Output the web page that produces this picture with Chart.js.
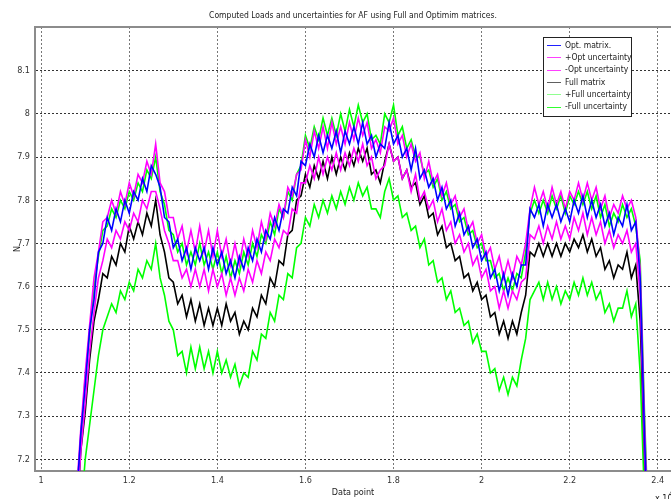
<!DOCTYPE html>
<html>
<head>
<meta charset="utf-8">
<script src="https://cdn.jsdelivr.net/npm/chart.js@4.4.1/dist/chart.umd.min.js"></script>
<style>
  html, body { margin: 0; padding: 0; background: #fff; }
</style>
</head>
<body>
<canvas id="loadChart" width="671" height="499"></canvas>
<script>
// data point index, in units of 10^4
const dataPoint = [
  1.08,1.09,1.10,1.11,1.12,1.13,1.14,1.15,1.16,1.17,
  1.18,1.19,1.20,1.21,1.22,1.23,1.24,1.25,1.26,1.27,
  1.28,1.29,1.30,1.31,1.32,1.33,1.34,1.35,1.36,1.37,
  1.38,1.39,1.40,1.41,1.42,1.43,1.44,1.45,1.46,1.47,
  1.48,1.49,1.50,1.51,1.52,1.53,1.54,1.55,1.56,1.57,
  1.58,1.59,1.60,1.61,1.62,1.63,1.64,1.65,1.66,1.67,
  1.68,1.69,1.70,1.71,1.72,1.73,1.74,1.75,1.76,1.77,
  1.78,1.79,1.80,1.81,1.82,1.83,1.84,1.85,1.86,1.87,
  1.88,1.89,1.90,1.91,1.92,1.93,1.94,1.95,1.96,1.97,
  1.98,1.99,2.00,2.01,2.02,2.03,2.04,2.05,2.06,2.07,
  2.08,2.09,2.10,2.11,2.12,2.13,2.14,2.15,2.16,2.17,
  2.18,2.19,2.20,2.21,2.22,2.23,2.24,2.25,2.26,2.27,
  2.28,2.29,2.30,2.31,2.32,2.33,2.34,2.35,2.36,2.37,
  2.38
];

const optMatrix = [
  7.10,7.26,7.37,7.50,7.57,7.68,7.70,7.76,7.73,7.78,
  7.75,7.80,7.77,7.82,7.80,7.85,7.82,7.88,7.86,7.83,
  7.76,7.75,7.69,7.71,7.66,7.69,7.64,7.69,7.66,7.69,
  7.64,7.69,7.65,7.68,7.63,7.66,7.62,7.67,7.64,7.69,
  7.66,7.71,7.68,7.73,7.71,7.76,7.73,7.78,7.77,7.83,
  7.81,7.89,7.88,7.93,7.90,7.95,7.91,7.95,7.92,7.96,
  7.91,7.96,7.93,7.97,7.93,7.98,7.93,7.95,7.90,7.93,
  7.92,7.98,7.93,7.95,7.90,7.92,7.87,7.92,7.85,7.87,
  7.83,7.85,7.80,7.83,7.78,7.80,7.74,7.77,7.72,7.74,
  7.69,7.71,7.66,7.68,7.62,7.64,7.59,7.63,7.58,7.63,
  7.60,7.65,7.65,7.78,7.76,7.79,7.74,7.79,7.76,7.79,
  7.75,7.78,7.75,7.80,7.77,7.81,7.76,7.80,7.76,7.79,
  7.74,7.77,7.72,7.76,7.74,7.79,7.73,7.75,7.62,7.25,
  6.95
];

const optPlus = [
  7.12,7.27,7.40,7.51,7.62,7.68,7.75,7.76,7.80,7.77,
  7.82,7.79,7.84,7.81,7.86,7.84,7.89,7.86,7.93,7.84,
  7.82,7.76,7.76,7.71,7.74,7.68,7.73,7.68,7.74,7.68,
  7.73,7.67,7.73,7.67,7.71,7.65,7.70,7.65,7.71,7.67,
  7.73,7.69,7.75,7.71,7.77,7.74,7.79,7.76,7.83,7.81,
  7.86,7.87,7.94,7.90,7.96,7.92,7.97,7.92,7.98,7.93,
  7.97,7.93,7.98,7.94,7.99,7.95,7.98,7.92,7.94,7.91,
  7.97,7.96,7.99,7.93,7.95,7.90,7.93,7.89,7.91,7.85,
  7.89,7.84,7.86,7.81,7.84,7.79,7.81,7.76,7.78,7.73,
  7.75,7.70,7.72,7.67,7.69,7.64,7.67,7.62,7.66,7.62,
  7.67,7.65,7.70,7.78,7.83,7.79,7.82,7.78,7.83,7.79,
  7.82,7.78,7.82,7.80,7.84,7.80,7.84,7.80,7.83,7.78,
  7.81,7.76,7.79,7.77,7.81,7.78,7.80,7.76,7.64,7.28,
  6.97
];

const optMinus = [
  7.05,7.22,7.33,7.45,7.54,7.62,7.66,7.71,7.69,7.73,
  7.71,7.75,7.73,7.77,7.75,7.80,7.78,7.82,7.82,7.78,
  7.73,7.70,7.66,7.66,7.62,7.64,7.60,7.64,7.60,7.64,
  7.59,7.64,7.60,7.63,7.58,7.62,7.58,7.62,7.59,7.64,
  7.61,7.66,7.63,7.68,7.66,7.71,7.69,7.73,7.72,7.78,
  7.77,7.84,7.84,7.88,7.85,7.90,7.86,7.90,7.87,7.91,
  7.87,7.91,7.88,7.92,7.89,7.93,7.88,7.90,7.85,7.87,
  7.88,7.93,7.89,7.90,7.85,7.87,7.82,7.86,7.80,7.82,
  7.78,7.80,7.75,7.78,7.73,7.75,7.70,7.72,7.68,7.70,
  7.65,7.67,7.62,7.64,7.59,7.60,7.55,7.59,7.55,7.59,
  7.57,7.61,7.62,7.72,7.71,7.74,7.70,7.74,7.71,7.75,
  7.71,7.74,7.71,7.76,7.73,7.77,7.72,7.76,7.72,7.75,
  7.70,7.73,7.69,7.72,7.70,7.73,7.68,7.70,7.58,7.22,
  6.92
];

const fullMatrix = [
  7.05,7.22,7.31,7.43,7.52,7.57,7.63,7.62,7.67,7.65,
  7.70,7.68,7.74,7.71,7.75,7.72,7.77,7.74,7.80,7.72,
  7.68,7.62,7.61,7.56,7.58,7.53,7.57,7.52,7.56,7.51,
  7.55,7.51,7.55,7.51,7.56,7.52,7.54,7.49,7.52,7.50,
  7.55,7.53,7.58,7.56,7.62,7.60,7.66,7.65,7.72,7.73,
  7.80,7.81,7.86,7.83,7.88,7.85,7.89,7.85,7.90,7.86,
  7.90,7.87,7.91,7.88,7.92,7.89,7.92,7.86,7.87,7.84,
  7.89,7.93,7.89,7.90,7.85,7.87,7.83,7.84,7.79,7.81,
  7.76,7.77,7.72,7.74,7.69,7.70,7.66,7.67,7.62,7.63,
  7.59,7.61,7.57,7.58,7.53,7.54,7.49,7.52,7.48,7.52,
  7.49,7.54,7.58,7.68,7.67,7.70,7.67,7.70,7.67,7.70,
  7.67,7.70,7.68,7.71,7.69,7.72,7.68,7.71,7.67,7.69,
  7.64,7.66,7.62,7.65,7.64,7.68,7.62,7.65,7.52,7.20,
  6.90
];

const fullPlus = [
  7.11,7.25,7.39,7.49,7.60,7.67,7.73,7.74,7.78,7.76,
  7.80,7.78,7.82,7.80,7.84,7.82,7.87,7.85,7.90,7.82,
  7.79,7.73,7.72,7.68,7.70,7.65,7.68,7.65,7.70,7.65,
  7.68,7.64,7.68,7.63,7.67,7.62,7.66,7.63,7.68,7.65,
  7.70,7.67,7.72,7.70,7.75,7.72,7.78,7.76,7.82,7.80,
  7.86,7.88,7.95,7.92,7.97,7.94,7.99,7.95,7.99,7.95,
  8.00,7.96,8.01,7.97,8.02,7.98,8.00,7.94,7.95,7.93,
  8.00,7.98,8.02,7.95,7.97,7.92,7.94,7.90,7.90,7.86,
  7.87,7.83,7.85,7.80,7.82,7.78,7.79,7.75,7.76,7.72,
  7.73,7.69,7.70,7.66,7.66,7.62,7.63,7.59,7.62,7.59,
  7.63,7.62,7.68,7.77,7.80,7.77,7.80,7.77,7.81,7.78,
  7.81,7.77,7.81,7.79,7.82,7.79,7.82,7.78,7.81,7.76,
  7.79,7.74,7.77,7.75,7.79,7.76,7.78,7.74,7.66,7.30,
  7.00
];

const fullMinus = [
  6.95,7.07,7.20,7.28,7.36,7.44,7.50,7.53,7.56,7.54,
  7.59,7.57,7.61,7.59,7.64,7.62,7.66,7.64,7.70,7.62,
  7.58,7.52,7.50,7.44,7.45,7.40,7.46,7.41,7.46,7.41,
  7.45,7.40,7.45,7.40,7.43,7.39,7.42,7.37,7.40,7.39,
  7.45,7.43,7.49,7.48,7.54,7.52,7.58,7.57,7.63,7.62,
  7.69,7.70,7.76,7.74,7.79,7.76,7.80,7.77,7.81,7.78,
  7.82,7.79,7.83,7.80,7.84,7.81,7.83,7.78,7.78,7.76,
  7.82,7.85,7.80,7.81,7.76,7.77,7.73,7.74,7.69,7.71,
  7.65,7.66,7.61,7.62,7.57,7.59,7.54,7.55,7.51,7.52,
  7.47,7.49,7.45,7.45,7.40,7.41,7.36,7.39,7.35,7.39,
  7.37,7.43,7.48,7.57,7.59,7.61,7.57,7.61,7.57,7.60,
  7.56,7.59,7.57,7.61,7.58,7.62,7.58,7.61,7.57,7.59,
  7.54,7.56,7.52,7.55,7.55,7.59,7.53,7.56,7.40,7.10,
  6.85
];

const xTicks = [1, 1.2, 1.4, 1.6, 1.8, 2, 2.2, 2.4];
const yTicks = [7.2, 7.3, 7.4, 7.5, 7.6, 7.7, 7.8, 7.9, 8, 8.1];

const seriesNames = ['Opt. matrix.', '+Opt uncertainty', '-Opt uncertainty', 'Full matrix', '+Full uncertainty', '-Full uncertainty'];
const seriesValues = [optMatrix, optPlus, optMinus, fullMatrix, fullPlus, fullMinus];
const lineColors = ['#0000ff', '#ff00ff', '#ff00ff', '#000000', '#00ff00', '#00ff00'];
const legendColors = ['#2020ff', '#ff40ff', '#ff40ff', '#606060', '#90ff90', '#30ff30'];

const FONT = "'Liberation Sans Narrow', 'DejaVu Sans Condensed', 'Liberation Sans', Arial, sans-serif";
const chartTitle = 'Computed Loads and uncertainties for AF using Full and Optimim matrices.';

const pairs = vals => dataPoint.map((x, i) => ({ x: x, y: vals[i] }));

const extras = {
  id: 'extras',
  afterDraw(chart) {
    const { ctx, chartArea: a } = chart;
    ctx.save();
    // top frame
    ctx.strokeStyle = '#8c8c8c';
    ctx.lineWidth = 2;
    ctx.beginPath();
    ctx.moveTo(a.left, a.top);
    ctx.lineTo(a.right, a.top);
    ctx.stroke();

    // title
    ctx.fillStyle = '#222';
    ctx.font = '8.5px ' + FONT;
    ctx.textAlign = 'center';
    ctx.textBaseline = 'middle';
    ctx.fillText(chartTitle, (a.left + a.right) / 2, 16);

    // legend
    const bx = 543, by = 37, bw = 88, bh = 79;
    ctx.fillStyle = '#fff';
    ctx.fillRect(bx, by, bw, bh);
    ctx.strokeStyle = '#222';
    ctx.lineWidth = 1;
    ctx.strokeRect(bx + 0.5, by + 0.5, bw, bh);
    ctx.font = '8.5px ' + FONT;
    ctx.textAlign = 'left';
    seriesNames.forEach((name, i) => {
      const y = 45 + i * 12.3;
      ctx.strokeStyle = legendColors[i];
      ctx.beginPath();
      ctx.moveTo(547, Math.round(y) + 0.5);
      ctx.lineTo(561, Math.round(y) + 0.5);
      ctx.stroke();
      ctx.fillStyle = '#222';
      ctx.fillText(name, 565, y + 0.5);
    });

    // exponent label
    ctx.font = '9px ' + FONT;
    ctx.fillText('x 10', 655, 499);
    ctx.font = '7px ' + FONT;
    ctx.fillText('4', 669, 494);
    ctx.restore();
  }
};

new Chart(document.getElementById('loadChart').getContext('2d'), {
  type: 'line',
  data: {
    datasets: seriesValues.map((vals, i) => ({
      label: seriesNames[i],
      data: pairs(vals),
      borderColor: lineColors[i],
      borderWidth: 1.6,
      pointRadius: 0,
      tension: 0,
      fill: false
    }))
  },
  options: {
    responsive: false,
    animation: false,
    layout: { padding: { top: 27, right: 0, left: 0, bottom: 0 } },
    plugins: {
      legend: { display: false },
      title: { display: false },
      tooltip: { enabled: false }
    },
    scales: {
      x: {
        type: 'linear',
        min: 0.986,
        max: 2.43,
        afterBuildTicks: s => { s.ticks = xTicks.map(v => ({ value: v })); },
        afterFit: s => { s.height = 28; },
        ticks: {
          callback: v => String(+v.toFixed(1)),
          font: { family: FONT, size: 9 },
          color: '#333',
          padding: 4,
          maxRotation: 0,
          autoSkip: false
        },
        grid: { color: '#777', lineWidth: 1, drawTicks: false },
        border: { color: '#8c8c8c', width: 2, dash: [2, 2] },
        title: {
          display: true,
          text: 'Data point',
          font: { family: FONT, size: 9 },
          color: '#222',
          padding: { top: 0, bottom: 1 }
        }
      },
      y: {
        min: 7.173,
        max: 8.201,
        afterBuildTicks: s => { s.ticks = yTicks.map(v => ({ value: v })); },
        afterFit: s => { s.width = 35; },
        ticks: {
          callback: v => String(+v.toFixed(1)),
          font: { family: FONT, size: 9 },
          color: '#333',
          padding: 5,
          autoSkip: false
        },
        grid: { color: '#333', lineWidth: 1, drawTicks: false },
        border: { color: '#8c8c8c', width: 2, dash: [2, 2] },
        title: {
          display: true,
          text: 'N',
          font: { family: FONT, size: 9 },
          color: '#222',
          padding: { top: 12, bottom: 0 }
        }
      }
    }
  },
  plugins: [extras]
});
</script>
</body>
</html>
